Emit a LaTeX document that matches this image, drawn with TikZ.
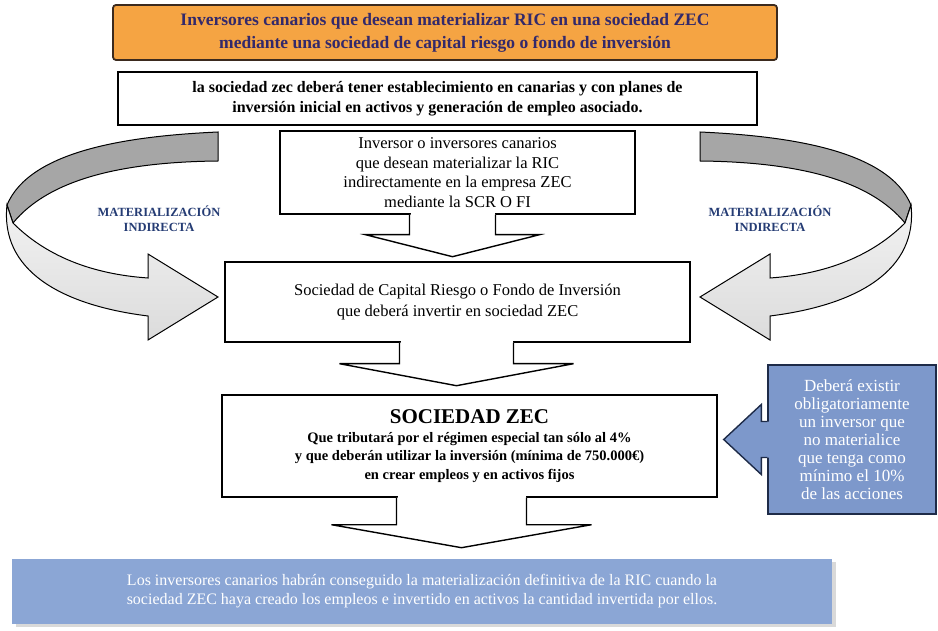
\documentclass[tikz,border=0pt]{standalone}
\usepackage{fontspec}
\setmainfont{Liberation Serif}
\usetikzlibrary{calc,shadows}

\definecolor{goalfill}{HTML}{F5A443}
\definecolor{goalline}{HTML}{3B2A1E}
\definecolor{goaltext}{HTML}{33296B}
\definecolor{notefill}{HTML}{7D98CB}
\definecolor{noteline}{HTML}{1E2B48}
\definecolor{endfill}{HTML}{8BA6D5}
\definecolor{labelblue}{HTML}{253C74}
\definecolor{ribbondark}{HTML}{A6A6A6}

\tikzset{
    boxline/.style={draw=black, line width=1.4pt},
    textbox/.style={boxline, fill=white, align=center, inner sep=0pt},
    goalbox/.style={draw=goalline, line width=1.8pt, fill=goalfill, rounded corners=3pt,
        text=goaltext, align=center, inner sep=0pt, font=\fontsize{17.5}{23}\selectfont\bfseries},
    notebox/.style={draw=noteline, line width=1.4pt, fill=notefill, text=white,
        align=center, inner sep=0pt, font=\fontsize{17}{18}\selectfont},
    endbox/.style={fill=endfill, text=white, align=center, inner sep=0pt,
        font=\fontsize{16}{19}\selectfont,
        drop shadow={shadow xshift=4pt, shadow yshift=-3pt, opacity=0.3}},
    ribbonback/.style={draw=black, line width=1pt, fill=ribbondark},
    ribbonfront/.style={draw=black, line width=1pt, top color=gray!10, bottom color=gray!28},
    sidelabel/.style={text=labelblue, align=center, font=\fontsize{12.5}{15}\selectfont\bfseries},
}

\newcommand{\downcallout}[5]{%
    \fill[white] ($(#1)+(-#2+1,-1.5)$) rectangle ($(#1)+(#2-1,1.5)$);
    \draw[boxline, fill=white] ($(#1)+(-#2,0)$) -- ($(#1)+(-#2,#4)$) -- ($(#1)+(-#3,#4)$)
        -- ($(#1)+(0,#5)$) -- ($(#1)+(#3,#4)$) -- ($(#1)+(#2,#4)$) -- ($(#1)+(#2,0)$);
}

\begin{document}
\begin{tikzpicture}[x=1pt, y=-1pt]
    \useasboundingbox (0,0) rectangle (938,631);

    \begin{scope}
        \draw[ribbonback] (218,132) .. controls (130,136) and (30,150) .. (7,205)
            -- (13,223) .. controls (50,178) and (125,162) .. (218,161) -- cycle;
        \draw[ribbonfront] (7,205) -- (13,223) .. controls (45,255) and (90,274) .. (148,278)
            -- (148,254) -- (218,297) -- (148,340) -- (148,316)
            .. controls (60,305) and (0,270) .. (7,205) -- cycle;
    \end{scope}
    \begin{scope}[xshift=918pt, xscale=-1]
        \draw[ribbonback] (218,132) .. controls (130,136) and (30,150) .. (7,205)
            -- (13,223) .. controls (50,178) and (125,162) .. (218,161) -- cycle;
        \draw[ribbonfront] (7,205) -- (13,223) .. controls (45,255) and (90,274) .. (148,278)
            -- (148,254) -- (218,297) -- (148,340) -- (148,316)
            .. controls (60,305) and (0,270) .. (7,205) -- cycle;
    \end{scope}

    \node[sidelabel] (leftlabel) at (159,219) {MATERIALIZACIÓN\\INDIRECTA};
    \node[sidelabel] (rightlabel) at (770,219) {MATERIALIZACIÓN\\INDIRECTA};

    \node[goalbox, minimum width=664pt, minimum height=55pt] (goal) at (445,32.5)
        {Inversores canarios que desean materializar RIC en una sociedad ZEC\\
         mediante una sociedad de capital riesgo o fondo de inversión};

    \node[textbox, line width=2pt, minimum width=639pt, minimum height=53pt,
        font=\fontsize{16}{20}\selectfont\bfseries] (req) at (437.5,98.5)
        {la sociedad zec deberá tener establecimiento en canarias y con planes de\\
         inversión inicial en activos y generación de empleo asociado.};

    \node[textbox, minimum width=355pt, minimum height=83pt,
        font=\fontsize{16.5}{19.5}\selectfont] (inv) at (457.5,172.5)
        {Inversor o inversores canarios\\que desean materializar la RIC\\
         indirectamente en la empresa ZEC\\mediante la SCR O FI};
    \coordinate (invfoot) at ($(inv.south)+(-5,0)$);
    \downcallout{invfoot}{43}{87}{20}{42}

    \node[textbox, minimum width=465pt, minimum height=80pt,
        font=\fontsize{16.5}{21}\selectfont] (scr) at (457.5,302)
        {Sociedad de Capital Riesgo o Fondo de Inversión\\que deberá invertir en sociedad ZEC};
    \coordinate (scrfoot) at ($(scr.south)+(-1,0)$);
    \downcallout{scrfoot}{57}{117}{21}{43}

    \node[textbox, minimum width=495pt, minimum height=102pt,
        font=\fontsize{14.5}{18.5}\selectfont\bfseries] (zec) at (469.5,446)
        {{\fontsize{21}{24}\selectfont SOCIEDAD ZEC}\\
         Que tributará por el régimen especial tan sólo al 4\%\\
         y que deberán utilizar la inversión (mínima de 750.000€)\\
         en crear empleos y en activos fijos};
    \coordinate (zecfoot) at ($(zec.south)+(-8,0)$);
    \downcallout{zecfoot}{65}{130}{27}{50}

    \node[notebox, minimum width=168pt, minimum height=149pt] (note) at (852,439.5)
        {Deberá existir\\obligatoriamente\\un inversor que\\no materialice\\
         que tenga como\\mínimo el 10\%\\de las acciones};
    \coordinate (notetip) at ($(zec.east |- note.west)+(6,0)$);
    \fill[notefill] ($(note.west)+(1.5,-18)$) -- ($(note.west)+(-6,-18)$) -- ($(note.west)+(-6,-35)$)
        -- (notetip) -- ($(note.west)+(-6,35)$) -- ($(note.west)+(-6,18)$)
        -- ($(note.west)+(1.5,18)$) -- cycle;
    \draw[draw=noteline, line width=1.4pt] ($(note.west)+(0,-18)$) -- ($(note.west)+(-6,-18)$)
        -- ($(note.west)+(-6,-35)$) -- (notetip) -- ($(note.west)+(-6,35)$)
        -- ($(note.west)+(-6,18)$) -- ($(note.west)+(0,18)$);

    \node[endbox, minimum width=820pt, minimum height=65pt] (result) at (422,591.5)
        {Los inversores canarios habrán conseguido la materialización definitiva de la RIC cuando la\\
         sociedad ZEC haya creado los empleos e invertido en activos la cantidad invertida por ellos.};
\end{tikzpicture}
\end{document}
